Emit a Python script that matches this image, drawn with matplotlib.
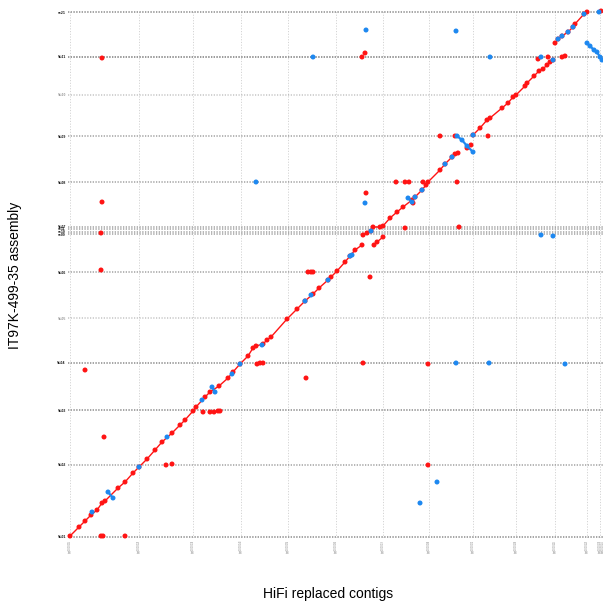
#!/usr/bin/env python3
# -*- coding: utf-8 -*-
"""
Dot plot: HiFi replaced contigs (x) vs IT97K-499-35 assembly (y).
Forward alignments in red, reverse alignments in blue. Positions in Mb.
"""

import matplotlib.pyplot as plt

# ----------------------------------------------------------------------
# contig boundaries
# ----------------------------------------------------------------------
x_breaks = [0.0, 6.9, 12.3, 17.1, 21.8, 26.6, 31.3, 35.9, 40.3, 44.6,
            48.5, 51.7, 52.95, 53.25]
x_names = ["ptg000001l", "ptg000002l", "ptg000003l", "ptg000004l", "ptg000005l",
           "ptg000006l", "ptg000007l", "ptg000008l", "ptg000009l", "ptg000010l",
           "ptg000011l", "ptg000012l", "ptg000013l", "ptg000014l"]

# y starts, and how many scaffolds begin (nearly) at each start
y_breaks = [0.0, 7.2, 12.7, 17.4, 21.9, 26.5, 30.3, 30.55, 30.8, 31.05,
            35.5, 40.1, 44.2, 48.0, 52.5]
y_counts = [3, 2, 3, 3, 1, 2, 2, 2, 2, 2, 2, 2, 1, 4, 3]
y_names = ["Vu01", "Vu02", "Vu03", "Vu04", "Vu05", "Vu06", "sc09", "sc10",
           "sc11", "Vu07", "Vu08", "Vu09", "Vu10", "Vu11", "sc21"]

# ----------------------------------------------------------------------
# forward alignments along the diagonal (consecutive blocks)
# ----------------------------------------------------------------------
chain_a_x = [0.0, 0.9, 1.5, 2.1, 2.7, 3.2, 3.5, 4.8, 5.5, 6.3, 6.9, 7.7, 8.5,
             9.2, 10.2, 11.0, 11.5, 12.3, 12.6, 13.5, 14.0, 14.9, 15.8, 16.3,
             17.0, 17.8, 18.3, 18.6, 19.3, 19.7, 20.1, 21.7, 22.7, 23.5, 24.3,
             24.9, 25.8, 26.1, 26.7, 27.5, 28.0, 28.5, 29.2]
chain_a_y = [0.1, 1.0, 1.6, 2.2, 2.7, 3.4, 3.6, 4.9, 5.5, 6.4, 7.0, 7.8, 8.7,
             9.5, 10.4, 11.2, 11.7, 12.6, 13.0, 14.0, 14.5, 15.1, 15.9, 16.5,
             17.3, 18.1, 18.9, 19.1, 19.3, 19.7, 20.0, 21.8, 22.8, 23.6, 24.3,
             24.9, 25.7, 26.0, 26.6, 27.5, 28.1, 28.7, 29.2]

chain_b_x = [29.3, 29.7, 30.1, 30.3, 31.0, 31.3, 32.0, 32.7, 33.3, 34.2, 34.5,
             35.2, 35.6, 35.8, 37.0, 37.5, 38.2, 38.5, 38.8]
chain_b_y = [30.2, 30.4, 30.6, 31.0, 31.0, 31.1, 31.9, 32.5, 33.0, 33.7, 34.0,
             34.7, 35.2, 35.5, 36.7, 37.3, 38.0, 38.3, 38.4]

chain_c_x = [40.3, 41.0, 41.7, 42.0, 43.2, 43.8, 44.3, 44.6, 45.5, 45.7, 46.4,
             46.9, 47.3, 47.7, 48.0, 48.3]
chain_c_y = [40.2, 40.9, 41.7, 41.9, 42.9, 43.4, 44.0, 44.2, 45.1, 45.4, 46.1,
             46.6, 46.8, 47.2, 47.5, 47.7]

chain_d_x = [48.5, 48.8, 49.2, 49.8, 50.3, 50.5, 51.4, 51.7]
chain_d_y = [49.4, 49.8, 50.1, 50.5, 51.0, 51.3, 52.3, 52.5]

chain_e_x = [30.4, 30.7, 31.3]
chain_e_y = [29.2, 29.5, 30.0]

# short forward hits away from the diagonal
fwd_x = [3.2, 3.2, 3.1, 3.1, 1.5, 3.4, 3.1, 3.3, 5.5, 9.6, 10.2, 13.3, 14.0,
         14.4, 14.8, 15.0, 18.7, 19.0, 19.3, 23.6, 23.8, 24.1, 24.3, 29.3,
         30.0, 32.6, 33.5, 33.9, 35.3, 38.7, 29.6, 33.5, 38.9, 37.0, 38.5,
         39.7, 40.1, 41.8, 46.8, 47.8, 49.2, 49.5, 53.1, 35.8, 35.8, 29.2,
         29.5, 34.3]
fwd_y = [47.9, 33.5, 30.4, 26.7, 16.7, 10.0, 0.1, 0.1, 0.1, 7.2, 7.3, 12.5,
         12.5, 12.5, 12.6, 12.6, 17.3, 17.4, 17.4, 15.9, 26.5, 26.5, 26.5,
         17.4, 26.0, 35.5, 35.5, 35.5, 35.5, 35.5, 34.4, 30.9, 31.0, 40.1,
         40.1, 38.9, 39.2, 40.1, 47.8, 48.0, 48.0, 48.1, 52.6, 17.3, 7.2,
         48.0, 48.4, 33.4]

# ----------------------------------------------------------------------
# reverse alignments
# ----------------------------------------------------------------------
rev_x = [2.2, 6.9, 9.7, 13.2, 16.2, 17.0, 19.2, 23.5, 24.1, 25.8, 28.0, 28.2,
         30.1, 34.5, 35.2, 37.5, 38.2, 40.3, 47.1, 48.3, 48.8, 49.2, 49.8,
         50.3, 51.4, 29.6, 24.3, 38.6, 42.0, 18.6, 29.5, 38.6, 41.9, 49.5,
         36.7, 35.0, 52.9, 47.1, 48.3]
rev_y = [2.5, 7.0, 10.0, 13.7, 16.3, 17.3, 19.2, 23.6, 24.2, 25.7, 28.1, 28.2,
         30.6, 34.0, 34.7, 37.3, 38.0, 40.2, 48.0, 47.7, 49.8, 50.1, 50.5,
         51.0, 52.3, 50.7, 48.0, 50.6, 48.0, 35.5, 33.4, 17.4, 17.4, 17.3,
         5.5, 3.4, 52.5, 30.2, 30.1]

# inversions (drawn as blocks)
inv_a_x = [3.8, 4.3]
inv_a_y = [4.5, 3.9]
inv_b_x = [14.2, 14.5]
inv_b_y = [15.0, 14.5]
inv_c_x = [33.8, 34.2]
inv_c_y = [33.9, 33.5]
inv_d_x = [38.7, 39.2, 39.7, 40.3]
inv_d_y = [40.1, 39.7, 39.1, 38.5]
inv_e_x = [51.7, 52.0, 52.4, 52.7, 53.0, 53.2]
inv_e_y = [49.4, 49.1, 48.7, 48.5, 48.0, 47.7]

RED = "#ff1414"
BLUE = "#1e88f0"
DOT = 13

plt.rcParams["font.family"] = ["Liberation Sans", "DejaVu Sans"]

fig = plt.figure(figsize=(6.03, 6.03), dpi=100)
ax = fig.add_axes([68 / 603, 65 / 603, 535 / 603, 527 / 603])
ax.set_xlim(-0.2, 53.3)
ax.set_ylim(-0.1, 52.6)
for sp in ax.spines.values():
    sp.set_visible(False)

# grid at contig boundaries; stacked scaffolds give darker lines
for xb in x_breaks:
    ax.axvline(xb, color="#d4d4d4", lw=0.7, ls=(0, (1.2, 1.6)), zorder=0)
for yb, n in zip(y_breaks, y_counts):
    for _ in range(n):
        ax.axhline(yb, color="#8c8c8c", alpha=0.5, lw=1.1, ls=(0, (0.8, 1.0)), zorder=0)

ax.set_xticks(x_breaks)
ax.set_xticklabels(x_names, rotation=90, fontsize=1.9, color="#888888")
ax.set_yticks(y_breaks)
ax.set_yticklabels(y_names, fontsize=2.5, fontweight="bold")
for lab, n in zip(ax.get_yticklabels(), y_counts):
    lab.set_color("#111111" if n > 1 else "#999999")
ax.tick_params(length=0, pad=1.5)

# forward hits
for cx, cy in [(chain_a_x, chain_a_y), (chain_b_x, chain_b_y),
               (chain_c_x, chain_c_y), (chain_d_x, chain_d_y),
               (chain_e_x, chain_e_y)]:
    ax.plot(cx, cy, color=RED, lw=1.0, solid_capstyle="round", zorder=2)
    ax.scatter(cx, cy, s=DOT, color=RED, edgecolors="none", zorder=3, clip_on=False)
ax.scatter(fwd_x, fwd_y, s=DOT, color=RED, edgecolors="none", zorder=3, clip_on=False)

# reverse hits
for cx, cy in [(inv_a_x, inv_a_y), (inv_b_x, inv_b_y), (inv_c_x, inv_c_y),
               (inv_d_x, inv_d_y), (inv_e_x, inv_e_y)]:
    ax.plot(cx, cy, color=BLUE, lw=1.6, solid_capstyle="round", zorder=4, clip_on=False)
    ax.scatter(cx, cy, s=DOT, color=BLUE, edgecolors="none", zorder=5, clip_on=False)
ax.scatter(rev_x, rev_y, s=DOT, color=BLUE, edgecolors="none", zorder=5, clip_on=False)

fig.text(328 / 603, 1 - 594 / 603, "HiFi replaced contigs", ha="center", va="center",
         fontsize=10)
fig.text(15 / 603, 1 - 275 / 603, "IT97K-499-35 assembly", ha="center", va="center",
         rotation=90, fontsize=10)

fig.savefig("out.png", dpi=100)
